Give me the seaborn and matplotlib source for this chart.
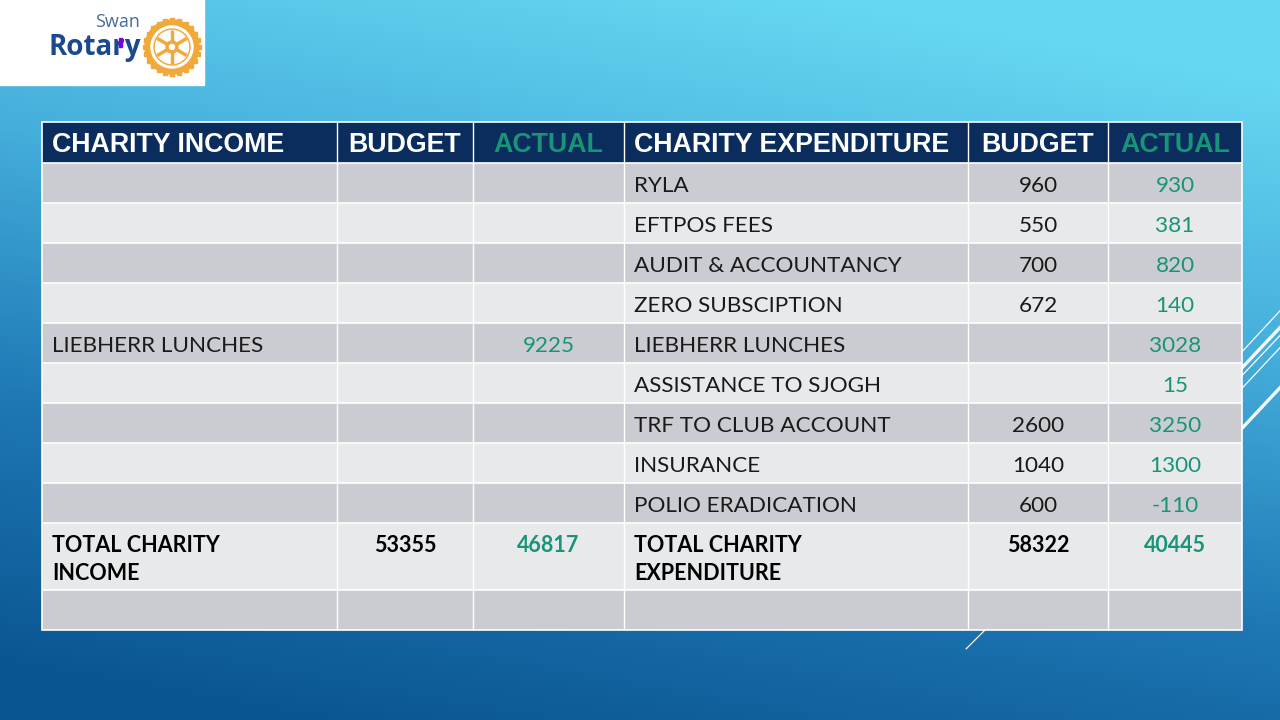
import numpy as np
import pandas as pd
import matplotlib
matplotlib.use("Agg")
import matplotlib.pyplot as plt
from matplotlib.colors import ListedColormap, LinearSegmentedColormap
from matplotlib.patches import Rectangle, Circle
import seaborn as sns

sns.set_theme(style="white")
plt.rcParams['font.family'] = ['Lato', 'DejaVu Sans']

# ---------------- data ----------------
headers = ["CHARITY INCOME", "BUDGET", "ACTUAL", "CHARITY EXPENDITURE", "BUDGET", "ACTUAL"]
income_items = ["", "", "", "", "LIEBHERR LUNCHES", "", "", "", ""]
income_budget = [None] * 9
income_actual = [None, None, None, None, 9225, None, None, None, None]
exp_items = ["RYLA", "EFTPOS FEES", "AUDIT & ACCOUNTANCY", "ZERO SUBSCIPTION",
             "LIEBHERR LUNCHES", "ASSISTANCE TO SJOGH", "TRF TO CLUB ACCOUNT",
             "INSURANCE", "POLIO ERADICATION"]
exp_budget = [960, 550, 700, 672, None, None, 2600, 1040, 600]
exp_actual = [930, 381, 820, 140, 3028, 15, 3250, 1300, -110]
total_labels = ["TOTAL CHARITY\nINCOME", "TOTAL CHARITY\nEXPENDITURE"]
total_budget = [53355, 58322]
total_actual = [46817, 40445]

table = pd.DataFrame({
    "inc_item": income_items, "inc_budget": income_budget, "inc_actual": income_actual,
    "exp_item": exp_items, "exp_budget": exp_budget, "exp_actual": exp_actual,
})

# ---------------- layout ----------------
W, H = 1280, 720
col_edges = np.array([42, 337, 473, 624, 968, 1108, 1242])
row_edges = np.array([122, 163, 203, 243, 283, 323, 363, 403, 443, 483, 523, 590, 630])

NAVY = "#0B2D5E"
DARK = "#CBCCD1"
LIGHT = "#E8E9EB"
TEAL = "#1A9478"

fig = plt.figure(figsize=(12.8, 7.2), dpi=100)

# background gradient
bg = fig.add_axes([0, 0, 1, 1])
yy, xx = np.mgrid[0:1:360j, 0:1:640j]
t = np.clip(0.88 * yy + 0.28 * (1 - xx) - 0.1, 0, 1)
grad = LinearSegmentedColormap.from_list("g", ["#66D7F2", "#45AEDB", "#1E78B4", "#0A5591"])
bg.imshow(t, cmap=grad, aspect="auto", extent=[0, W, H, 0], vmin=0, vmax=1)
bg.set_xlim(0, W)
bg.set_ylim(H, 0)
bg.axis("off")

# decorative lines (behind table)
for (x0, y0, x1, y1, lw) in [(1100, 505, 1290, 300, 0.9), (1100, 518, 1290, 317, 2.4),
                             (1100, 525, 1290, 325, 0.9), (1100, 540, 1290, 337, 0.9),
                             (1100, 580, 1290, 377, 2.4), (966, 649, 1000, 615, 0.9)]:
    bg.plot([x0, x1], [y0, y1], color="white", lw=lw, alpha=0.95, zorder=2)

ax = fig.add_axes([0, 0, 1, 1])
ax.set_xlim(0, W)
ax.set_ylim(H, 0)
ax.axis("off")
ax.patch.set_alpha(0)

# cell backgrounds: 0 dark, 1 light, 2 navy
n_rows = len(row_edges) - 1
codes = np.zeros((n_rows, len(col_edges) - 1))
for r in range(n_rows):
    codes[r, :] = 2 if r == 0 else (0 if r % 2 == 1 else 1)
ax.pcolormesh(col_edges, row_edges, codes, cmap=ListedColormap([DARK, LIGHT, NAVY]),
              vmin=-0.5, vmax=2.5, zorder=3)
ax.vlines(col_edges[1:-1], row_edges[0], row_edges[-1], color="white", lw=1, zorder=4)
ax.hlines(row_edges[1:-1], col_edges[0], col_edges[-1], color="white", lw=1.2, zorder=4)
ax.add_patch(Rectangle((col_edges[0], row_edges[0]), col_edges[-1] - col_edges[0],
                       row_edges[-1] - row_edges[0], fill=False, ec="white", lw=1.2, zorder=4))

# header
hy = (row_edges[0] + row_edges[1]) / 2 + 2
for i, h in enumerate(headers):
    color = TEAL if h == "ACTUAL" else "white"
    if i in (0, 3):
        ax.text(col_edges[i] + 10, hy, h, color=color, fontsize=19.3, fontweight="bold",
                family="Liberation Sans", va="center", ha="left", zorder=5)
    else:
        ax.text((col_edges[i] + col_edges[i + 1]) / 2, hy, h, color=color, fontsize=19.3,
                fontweight="bold", family="Liberation Sans", va="center", ha="center", zorder=5)


def fmt(v):
    return "" if v is None or (isinstance(v, float) and np.isnan(v)) else str(int(v))


# body rows
for r, row in table.iterrows():
    cy = (row_edges[r + 1] + row_edges[r + 2]) / 2 + 2.5
    vals = [row.inc_item, fmt(row.inc_budget), fmt(row.inc_actual),
            row.exp_item, fmt(row.exp_budget), fmt(row.exp_actual)]
    for c, v in enumerate(vals):
        if not v:
            continue
        color = TEAL if c in (2, 5) else "#1a1a1a"
        if c in (0, 3):
            ax.text(col_edges[c] + 10, cy, v, color=color, fontsize=16.2, va="center",
                    ha="left", zorder=5)
        else:
            ax.text((col_edges[c] + col_edges[c + 1]) / 2, cy, v, color=color, fontsize=16.2,
                    va="center", ha="center", zorder=5)

# totals row
ty = row_edges[10] + 23
for k in range(2):
    c0 = 3 * k
    for j, ln in enumerate(total_labels[k].split("\n")):
        ax.text(col_edges[c0] + 10, ty + j * 28, ln, color="black", fontsize=15.5,
                fontweight="bold", va="center", ha="left", zorder=5)
    ax.text((col_edges[c0 + 1] + col_edges[c0 + 2]) / 2, ty, str(total_budget[k]),
            color="black", fontsize=15.5, fontweight="bold", va="center", ha="center", zorder=5)
    ax.text((col_edges[c0 + 2] + col_edges[c0 + 3]) / 2, ty, str(total_actual[k]),
            color=TEAL, fontsize=15.5, fontweight="bold", va="center", ha="center", zorder=5)

# logo
ax.add_patch(Rectangle((0, 0), 204, 85, color="white", zorder=6))
ax.text(118, 22, "Swan", color="#4A6A9C", fontsize=13, ha="center", va="center",
        family="Open Sans", zorder=7)
ax.text(95, 47, "Rotary", color="#1B4A8C", fontsize=20, fontweight="bold", ha="center",
        va="center", family="Open Sans", zorder=7)
ax.add_patch(Rectangle((119, 38), 3, 9, color="#7A00E6", zorder=8))
GOLD = "#F2A93B"
cx, cyy = 172, 47
ax.add_patch(Circle((cx, cyy), 27, color=GOLD, zorder=7))
ax.add_patch(Circle((cx, cyy), 21, color="white", zorder=7))
ax.add_patch(Circle((cx, cyy), 18, color=GOLD, zorder=7))
ax.add_patch(Circle((cx, cyy), 16.5, color="white", zorder=7))
for a in np.arange(0, 360, 60) + 30:
    rad = np.deg2rad(a)
    ax.plot([cx, cx + 17 * np.cos(rad)], [cyy, cyy + 17 * np.sin(rad)], color=GOLD, lw=2.5,
            zorder=8, solid_capstyle="butt")
ax.add_patch(Circle((cx, cyy), 6, color=GOLD, zorder=8))
ax.add_patch(Circle((cx, cyy), 2.5, color="white", zorder=9))
for a in np.arange(0, 360, 15):
    rad = np.deg2rad(a)
    ax.add_patch(Rectangle((cx + 27 * np.cos(rad) - 2, cyy + 27 * np.sin(rad) - 2), 4, 4,
                           color=GOLD, zorder=7))

fig.savefig("out.png", dpi=100)
